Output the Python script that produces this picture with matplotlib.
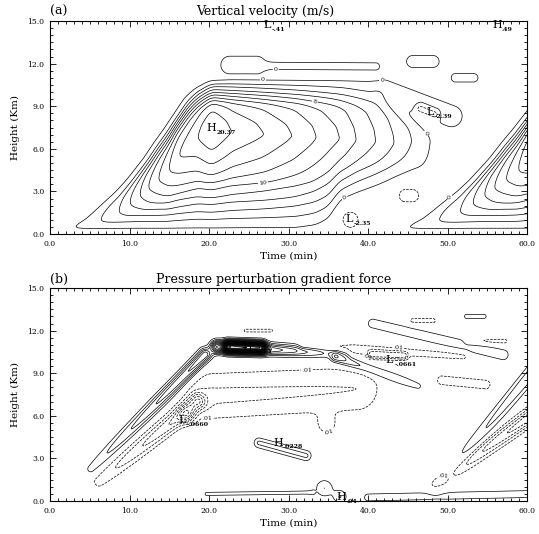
import numpy as np
import matplotlib
matplotlib.use("Agg")
import matplotlib.pyplot as plt

plt.rcParams['font.family'] = ['DejaVu Serif']

# ---------------- Panel (a): vertical velocity (m/s) ----------------
# life cycle of the updraft: time (min), core value (m/s), core height,
# top of updraft and base of updraft (km)
cyc_t = [2.0, 3.0, 4.7, 6.4, 8.7, 10.0, 11.3, 12.3, 13.6, 14.9, 16.0, 17.4, 18.6,
         20.3, 22.8, 27.0, 30.5, 31.0, 33.0, 33.5, 35.0, 36.5, 38.5, 41.0, 43.3,
         45.5, 47.5, 50.0]
cyc_w = [-0.3, 0.0, 1.0, 2.0, 4.0, 6.0, 8.0, 10.0, 12.0, 14.0, 16.0, 17.0, 18.0,
         20.37, 18.0, 16.0, 14.0, 13.7, 12.4, 12.0, 11.0, 10.0, 8.0, 6.0, 4.0,
         2.0, 0.0, -0.3]
cyc_zc = [0.45, 0.45, 0.7, 0.9, 1.5, 2.1, 2.7, 3.2, 3.8, 4.4, 5.4, 6.1, 6.8,
          7.3, 7.2, 7.0, 6.9, 6.9, 6.8, 6.8, 6.75, 6.7, 6.6, 6.5, 6.4,
          6.5, 6.5, 6.5]
cyc_top = [0.5, 0.55, 1.1, 2.0, 3.15, 3.9, 4.8, 5.5, 6.6, 7.6, 8.5, 9.7, 10.3,
           10.8, 10.85, 10.85, 10.85, 10.85, 10.85, 10.85, 10.85, 10.85, 10.85,
           10.85, 9.5, 8.2, 7.2, 7.0]
cyc_base = [0.35, 0.35, 0.35, 0.35, 0.35, 0.35, 0.35, 0.35, 0.35, 0.35, 0.35,
            0.35, 0.35, 0.35, 0.35, 0.35, 0.35, 0.35, 0.5, 0.55, 1.0, 2.3, 2.8,
            3.3, 3.8, 4.3, 4.4, 4.4]
# normalised vertical profile below / above the core
low_s = [0.0, 0.095, 0.175, 0.263, 0.336, 0.43, 0.504, 0.606, 0.75, 0.94, 1.0]
low_v = [0.0, 0.108, 0.216, 0.324, 0.432, 0.54, 0.65, 0.757, 0.865, 0.973, 1.0]
up_s = [0.0, 0.2, 0.47, 0.575, 0.63, 0.7, 0.75, 0.81, 0.877, 0.93, 1.0]
up_v = [1.0, 0.97, 0.865, 0.757, 0.65, 0.54, 0.43, 0.32, 0.22, 0.11, 0.0]
# updraft cells: start time in the plot, matching time of the life cycle, pace
cell_start = [0.0, 45.0]
cell_cycle = [0.0, 3.0]
cell_pace = [1.0, 0.86]
w_bg = -0.3
# secondary features of w: segment start/end (min, km), width (km), amplitude (m/s)
wa_t1 = [42.0, 46.6, 22.6, 25.5, 45.6, 51.0, 37.8, 44.7, 28.3]
wa_z1 = [10.1, 8.85, 11.9, 11.85, 12.15, 11.0, 1.0, 2.7, 14.6]
wa_t2 = [50.5, 48.4, 26.0, 41.0, 48.2, 53.3, 37.8, 45.6, 28.3]
wa_z2 = [8.3, 8.45, 11.9, 11.8, 12.15, 11.0, 1.0, 2.7, 14.6]
wa_sig = [0.45, 0.26, 0.4, 0.17, 0.28, 0.2, 0.6, 0.6, 0.5]
wa_amp = [1.2, -3.3, 1.0, 0.9, 0.9, 0.9, -2.5, -2.2, -0.11]
levels_a = [-2, 0, 2, 4, 6, 8, 10, 12, 14, 16, 18, 20]
# extrema labels
ext_a_t = [20.3, 47.8, 37.6, 27.3, 56.2]
ext_a_z = [7.45, 8.6, 1.05, 14.7, 14.7]
ext_a_kind = ['H', 'L', 'L', 'L', 'H']
ext_a_val = ['20.37', '-2.39', '-2.35', '-.41', '.49']
# contour label spots (t, z)
lab_a_t = [26.8, 28.4, 41.8, 47.8, 33.3, 26.8, 37.2, 49.4]
lab_a_z = [10.85, 11.7, 10.7, 7.3, 9.3, 3.5, 2.4, 3.2]

# ---------------- Panel (b): pressure perturbation gradient force ----------------
pb_t1 = [5.2, 22.5, 21.0, 36.0, 6.2, 17.2, 20.5, 34.8, 32.0, 40.5, 40.6, 52.4,
         45.6, 52.6, 49.3, 24.6, 50.2, 48.5, 19.7, 34.5, 36.5, 40.0, 26.3]
pb_z1 = [2.25, 10.85, 10.85, 10.1, 1.4, 6.0, 7.4, 5.3, 10.95, 10.3, 12.5, 13.0,
         12.7, 11.25, 8.5, 12.0, 2.0, 1.15, 0.5, 0.9, 0.3, 0.25, 4.1]
pb_t2 = [19.5, 26.5, 37.0, 46.3, 18.5, 17.2, 38.5, 34.8, 52.0, 44.5, 57.0, 54.6,
         48.2, 57.2, 54.8, 27.8, 61.0, 61.0, 33.0, 34.5, 36.5, 61.0, 32.2]
pb_z2 = [10.3, 10.8, 10.4, 8.1, 7.0, 6.0, 7.9, 5.3, 10.2, 10.2, 10.3, 13.0,
         12.7, 11.25, 8.2, 12.0, 9.3, 6.2, 0.6, 0.9, 0.3, 0.5, 3.2]
pb_sig = [0.32, 0.27, 0.3, 0.28, 0.42, 0.4, 1.25, 0.55, 0.28, 0.2, 0.34, 0.2,
          0.2, 0.2, 0.42, 0.16, 0.35, 0.38, 0.15, 0.45, 0.35, 0.4, 0.28]
pb_a1 = [0.014, 0.19, 0.09, 0.035, -0.014, -0.03, -0.022, -0.012, -0.016, -0.03,
         0.015, 0.013, -0.013, -0.013, -0.013, -0.012, 0.013, -0.014, 0.013,
         0.02, 0.02, 0.012, 0.0228]
pb_a2 = [0.06, 0.19, 0.015, 0.012, -0.05, -0.03, -0.02, -0.012, -0.013, -0.03,
         0.017, 0.013, -0.013, -0.013, -0.013, -0.012, 0.03, -0.05, 0.013,
         0.02, 0.02, 0.012, 0.0228]
levels_b = [round(v, 2) for v in np.arange(-0.07, 0.275, 0.01) if abs(v) > 1e-6]
ext_b_t = [24.8, 16.6, 42.7, 28.7, 36.7]
ext_b_z = [10.85, 5.7, 9.9, 4.1, 0.25]
ext_b_kind = ['H', 'L', 'L', 'H', 'H']
ext_b_val = ['.2613', '-.0660', '-.0661', '.0228', '.04']
lab_b_t = [19.7, 32.3, 35.0, 39.9, 43.8, 49.4]
lab_b_z = [5.35, 9.4, 5.0, 10.1, 10.8, 1.5]

x_ticks = [0, 10, 20, 30, 40, 50, 60]
y_ticks = [0, 3, 6, 9, 12, 15]

# ---------------- grid & helpers ----------------
K = 0.56  # km of visual distance per minute
tg = np.arange(-5.0, 65.01, 0.1)
zg = np.arange(0.0, 15.001, 0.05)
T, Z = np.meshgrid(tg, zg)


def ridge(t1, z1, t2, z2, sig, a1, a2):
    X = T * K
    x1, x2 = t1 * K, t2 * K
    dx, dz = x2 - x1, z2 - z1
    L2 = dx * dx + dz * dz
    if L2 == 0:
        s = np.zeros_like(X)
    else:
        s = np.clip(((X - x1) * dx + (Z - z1) * dz) / L2, 0, 1)
    px, pz = x1 + s * dx, z1 + s * dz
    d2 = (X - px) ** 2 + (Z - pz) ** 2
    return (a1 + (a2 - a1) * s) * np.exp(-d2 / (2 * sig * sig))


def smooth(F, nt, nz):
    def k(n):
        x = np.arange(-3 * n, 3 * n + 1)
        w = np.exp(-0.5 * (x / n) ** 2)
        return w / w.sum()
    kt, kz = k(nt), k(nz)
    pt = len(kt) // 2
    G = np.pad(F, ((0, 0), (pt, pt)), mode='edge')
    F = sum(w * G[:, i:i + F.shape[1]] for i, w in enumerate(kt))
    pz = len(kz) // 2
    G = np.pad(F, ((pz, pz), (0, 0)), mode='edge')
    F = sum(w * G[i:i + F.shape[0], :] for i, w in enumerate(kz))
    return F


def updraft(tt):
    A = np.interp(tt, cyc_t, cyc_w)
    zc = np.interp(tt, cyc_t, cyc_zc)
    zt_ = np.interp(tt, cyc_t, cyc_top)
    zb = np.interp(tt, cyc_t, cyc_base)
    s = (Z - zb) / np.maximum(zc - zb, 1e-3)
    u = (Z - zc) / np.maximum(zt_ - zc, 1e-3)
    shape = np.where(Z < zc, np.interp(s, low_s, low_v), np.interp(u, up_s, up_v))
    return w_bg + (A - w_bg) * shape


W = np.full_like(T, -1e9)
for t_s, t_c, pace in zip(cell_start, cell_cycle, cell_pace):
    W = np.maximum(W, updraft(t_c + pace * (T - t_s)))
W = smooth(W, 4, 2)
for i in range(len(wa_t1)):
    W = W + ridge(wa_t1[i], wa_z1[i], wa_t2[i], wa_z2[i], wa_sig[i], wa_amp[i], wa_amp[i])

PG = np.zeros_like(T)
for i in range(len(pb_t1)):
    PG = PG + ridge(pb_t1[i], pb_z1[i], pb_t2[i], pb_z2[i], pb_sig[i], pb_a1[i], pb_a2[i])

# ---------------- figure ----------------
fig = plt.figure(figsize=(5.39, 5.34), dpi=100)
axA = fig.add_axes([50 / 539, 1 - 234 / 534, 477 / 539, 213 / 534])
axB = fig.add_axes([50 / 539, 1 - 501 / 534, 477 / 539, 213 / 534])


def style(ax):
    ax.set_xlim(0, 60)
    ax.set_ylim(0, 15)
    ax.set_xticks(x_ticks)
    ax.set_xticklabels(['%.1f' % v for v in x_ticks])
    ax.set_yticks(y_ticks)
    ax.set_yticklabels(['%.1f' % v for v in y_ticks])
    ax.set_xticks(np.arange(0, 61, 1), minor=True)
    ax.set_yticks(np.arange(0, 15.01, 0.5), minor=True)
    ax.tick_params(which='both', direction='in', top=True, right=True,
                   labelsize=5.5, width=0.6, pad=4)
    ax.tick_params(which='major', length=4)
    ax.tick_params(which='minor', length=2.5)
    for s in ax.spines.values():
        s.set_linewidth(0.8)
    ax.set_xlabel('Time (min)', fontsize=7.5, labelpad=3)
    ax.set_ylabel('Height (Km)', fontsize=7.5, labelpad=5)


def extrema(ax, ts, zs, kinds, vals):
    for t, z, kd, v in zip(ts, zs, kinds, vals):
        ax.text(t, z, kd, fontsize=8, ha='center', va='center')
        ax.annotate(v, xy=(t, z), xytext=(3.5, -3), textcoords='offset points',
                    fontsize=4.5, fontweight='bold', ha='left', va='center')


csA = axA.contour(tg, zg, W, levels=levels_a, colors='k', linewidths=0.5)
csA.set_linestyles(['--' if lv < 0 else '-' for lv in levels_a])
style(axA)
extrema(axA, ext_a_t, ext_a_z, ext_a_kind, ext_a_val)
axA.clabel(csA, manual=list(zip(lab_a_t, lab_a_z)), fontsize=4.5, fmt='%g',
           inline=True, inline_spacing=1)

csB = axB.contour(tg, zg, PG, levels=levels_b, colors='k', linewidths=0.5)
csB.set_linestyles(['--' if lv < 0 else '-' for lv in levels_b])
style(axB)
extrema(axB, ext_b_t, ext_b_z, ext_b_kind, ext_b_val)
axB.clabel(csB, manual=list(zip(lab_b_t, lab_b_z)), fontsize=4.5,
           fmt=lambda v: ('%.2f' % abs(v))[1:], inline=True, inline_spacing=1)

fig.text(50 / 539, 1 - 11 / 534, '(a)', fontsize=9, ha='left', va='center')
fig.text(265 / 539, 1 - 11 / 534, 'Vertical velocity (m/s)', fontsize=9, ha='center', va='center')
fig.text(50 / 539, 1 - 279 / 534, '(b)', fontsize=9, ha='left', va='center')
fig.text(274 / 539, 1 - 279 / 534, 'Pressure perturbation gradient force', fontsize=9,
         ha='center', va='center')

fig.savefig('out.png', dpi=100)
